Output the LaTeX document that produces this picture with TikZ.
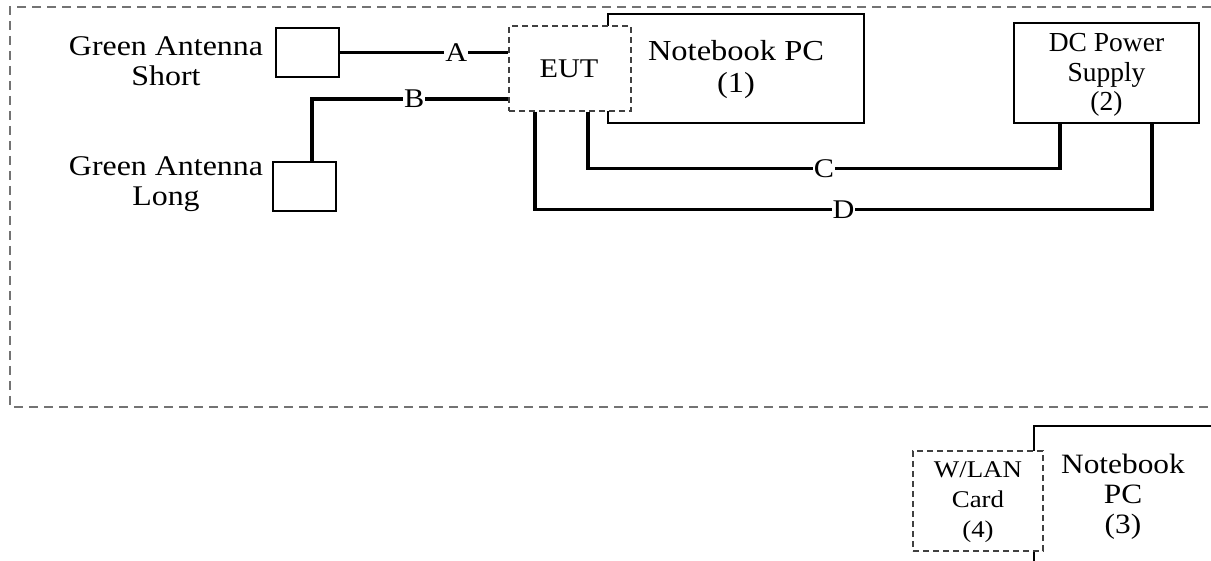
\documentclass[tikz,border=0pt]{standalone}
\usepackage{fontspec}
\setmainfont{Liberation Serif}[FakeStretch=1.12]
\newfontfamily\plainserif{Liberation Serif}
\usetikzlibrary{calc}
\begin{document}
\begin{tikzpicture}[x=1pt,y=-1pt,
  box/.style={draw=black,line width=2pt,fill=white,inner sep=0pt},
  dbox/.style={draw=black!75,line width=1.1pt,dash pattern=on 6pt off 4pt,fill=white,inner sep=0pt},
  conn/.style={draw=black,line width=3.6pt},
  lab/.style={fill=white,inner sep=1pt,font=\fontsize{27}{30}\selectfont},
  txt/.style={align=center,font=\fontsize{28.5}{30}\selectfont,inner sep=0pt},
  outer/.style={draw=black!55,line width=1.2pt,dash pattern=on 9pt off 6pt}]
\useasboundingbox (0,0) rectangle (1211,561);
\begin{scope}
\clip (0,0) rectangle (1211,561);
% outer dashed region
\draw[outer] (1211,7) -- (10,7) -- (10,407) -- (1211,407);
% antennas
\node[box,minimum width=63pt,minimum height=49pt] (ants) at (307.5,52.5) {};
\node[box,minimum width=63pt,minimum height=49pt] (antl) at (304.5,186.5) {};
\node[txt] (antst) at (166,61) {Green Antenna\\Short};
\node[txt] (antlt) at (166,184) {Green Antenna\\Long};
% notebook 1 and EUT
\node[box,minimum width=256pt,minimum height=109pt] (nb1) at (736,68.5) {};
\node[txt,font=\fontsize{29}{32}\selectfont] (nb1t) at (736,70) {Notebook PC\\(1)};
\node[dbox,minimum width=122pt,minimum height=85pt] (eut) at (570,68.5) {};
\node[txt,font=\fontsize{27}{30}\selectfont] (eutt) at (569,69) {EUT};
% DC power supply
\node[box,minimum width=185pt,minimum height=100pt] (dc) at (1106.5,73) {};
\node[txt,font=\plainserif\fontsize{27.5}{29.5}\selectfont] (dct) at (1106.5,75) {DC Power\\Supply\\(2)};
% connectors
\draw[conn] (ants.east) -- node[lab,pos=0.69]{A} (eut.west |- ants.east);
\draw[conn] ([xshift=7.5pt]antl.north) |- node[lab,pos=0.76]{B} ([yshift=-30.5pt]eut.west);
\draw[conn] ([xshift=18pt]eut.south) -- ++(0,57) -| node[lab,pos=0.25]{C} ([xshift=-46.5pt]dc.south);
\draw[conn] ([xshift=-35pt]eut.south) -- ++(0,98) -| node[lab,pos=0.25]{D} ([xshift=45.5pt]dc.south);
% notebook 3 and WLAN card
\node[box,minimum width=270pt,minimum height=180pt,anchor=north west] (nb3) at (1033,425) {};
\node[txt,font=\fontsize{28}{30}\selectfont] (nb3t) at (1123,497) {Notebook\\PC\\(3)};
\node[dbox,minimum width=130pt,minimum height=100pt] (wlan) at (978,501) {};
\node[txt,font=\fontsize{24}{30}\selectfont] (wlant) at (978,502) {W/LAN\\Card\\(4)};
\end{scope}
\end{tikzpicture}
\end{document}
